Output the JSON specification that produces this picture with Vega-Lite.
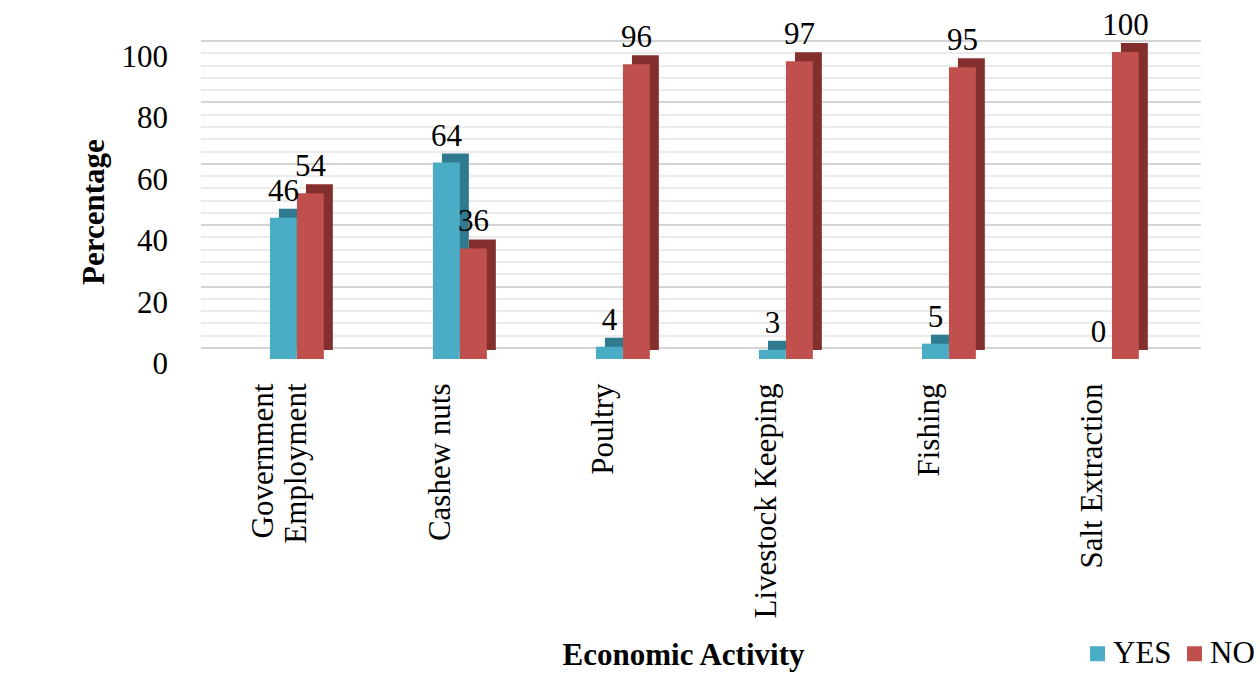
{
  "$schema": "https://vega.github.io/schema/vega-lite/v6.json",
  "width": 1000,
  "height": 307,
  "autosize": {"type": "none"},
  "padding": {"left": 212, "top": 52, "right": 48, "bottom": 327},
  "background": "white",
  "config": {
    "view": {"stroke": null},
    "font": "Liberation Serif",
    "text": {"font": "Liberation Serif"}
  },
  "data": {
    "values": [
      {"activity": "Government Employment", "response": "YES", "pct": 46},
      {"activity": "Government Employment", "response": "NO", "pct": 54},
      {"activity": "Cashew nuts", "response": "YES", "pct": 64},
      {"activity": "Cashew nuts", "response": "NO", "pct": 36},
      {"activity": "Poultry", "response": "YES", "pct": 4},
      {"activity": "Poultry", "response": "NO", "pct": 96},
      {"activity": "Livestock Keeping", "response": "YES", "pct": 3},
      {"activity": "Livestock Keeping", "response": "NO", "pct": 97},
      {"activity": "Fishing", "response": "YES", "pct": 5},
      {"activity": "Fishing", "response": "NO", "pct": 95},
      {"activity": "Salt Extraction", "response": "YES", "pct": 0},
      {"activity": "Salt Extraction", "response": "NO", "pct": 100}
    ]
  },
  "encoding": {
    "x": {
      "field": "activity",
      "type": "nominal",
      "sort": ["Government Employment", "Cashew nuts", "Poultry", "Livestock Keeping", "Fishing", "Salt Extraction"],
      "scale": {"paddingInner": 0.67, "paddingOuter": 0.4025, "align": 0.442},
      "axis": {
        "title": "Economic Activity",
        "titleFont": "Liberation Serif",
        "titleFontSize": 31,
        "titleFontWeight": "bold",
        "titleColor": "black",
        "titleX": 471,
        "titleY": 296,
        "titleBaseline": "middle",
        "titleAlign": "center",
        "labelExpr": "datum.label == 'Government Employment' ? ['Government', 'Employment'] : datum.label",
        "labelAngle": -90,
        "labelAlign": "right",
        "labelBaseline": "middle",
        "labelFont": "Liberation Serif",
        "labelFontSize": 31,
        "labelLineHeight": 33,
        "labelColor": "black",
        "labelLimit": 0,
        "labelPadding": 24,
        "labelOffset": {"condition": {"test": "datum.value == 'Government Employment'", "value": -33}, "value": -19},
        "ticks": false,
        "domain": false,
        "grid": false
      }
    },
    "y": {
      "field": "pct",
      "type": "quantitative",
      "scale": {"domain": [0, 100]},
      "axis": {
        "values": [0, 4, 8, 12, 16, 20, 24, 28, 32, 36, 40, 44, 48, 52, 56, 60, 64, 68, 72, 76, 80, 84, 88, 92, 96, 100],
        "labelExpr": "datum.value % 20 === 0 ? datum.label : ''",
        "labelOverlap": false,
        "grid": true,
        "gridColor": {"condition": {"test": "datum.value % 20 === 0", "value": "#D4D4D4"}, "value": "#EBEBEB"},
        "gridWidth": 2,
        "translate": -11,
        "labelOffset": 17,
        "labelPadding": 33,
        "ticks": false,
        "tickSize": 0,
        "domain": false,
        "labelFont": "Liberation Serif",
        "labelFontSize": 31,
        "labelColor": "black",
        "title": "Percentage",
        "titleFont": "Liberation Serif",
        "titleFontSize": 31,
        "titleFontWeight": "bold",
        "titleColor": "black",
        "titleX": -106,
        "titleY": 171,
        "titleAngle": -90,
        "titleAlign": "center",
        "titleBaseline": "middle"
      }
    }
  },
  "layer": [
    {
      "transform": [{"filter": "datum.response == 'YES'"}],
      "mark": {"type": "bar", "width": {"band": 0.5}, "xOffset": -4.5, "yOffset": -9, "y2Offset": -9, "color": "#2F7A8E"}
    },
    {
      "transform": [{"filter": "datum.response == 'NO'"}],
      "mark": {"type": "bar", "width": {"band": 0.5}, "xOffset": 22.5, "yOffset": -9, "y2Offset": -9, "color": "#832F2D"}
    },
    {
      "transform": [{"filter": "datum.response == 'YES'"}],
      "mark": {"type": "bar", "width": {"band": 0.5}, "xOffset": -13.5},
      "encoding": {
        "color": {
          "field": "response",
          "type": "nominal",
          "scale": {"domain": ["YES", "NO"], "range": ["#4BACC6", "#C0504D"]},
          "legend": {
            "orient": "none",
            "legendX": 870,
            "legendY": 586,
            "direction": "horizontal",
            "title": null,
            "symbolType": "square",
            "symbolSize": 225,
            "symbolStrokeWidth": 0,
            "labelFont": "Liberation Serif",
            "labelFontSize": 31,
            "labelColor": "black",
            "labelOffset": 0,
            "columnPadding": 7,
            "padding": 0
          }
        }
      }
    },
    {
      "transform": [{"filter": "datum.response == 'NO'"}],
      "mark": {"type": "bar", "width": {"band": 0.5}, "xOffset": 13.5},
      "encoding": {
        "color": {"field": "response", "type": "nominal"}
      }
    },
    {
      "transform": [{"filter": "datum.response == 'YES'"}],
      "mark": {"type": "text", "dx": -13.5, "dy": -26, "fontSize": 31, "baseline": "middle", "color": "black"},
      "encoding": {"text": {"field": "pct", "type": "quantitative"}}
    },
    {
      "transform": [{"filter": "datum.response == 'NO'"}],
      "mark": {"type": "text", "dx": 13.5, "dy": -26, "fontSize": 31, "baseline": "middle", "color": "black"},
      "encoding": {"text": {"field": "pct", "type": "quantitative"}}
    }
  ]
}
